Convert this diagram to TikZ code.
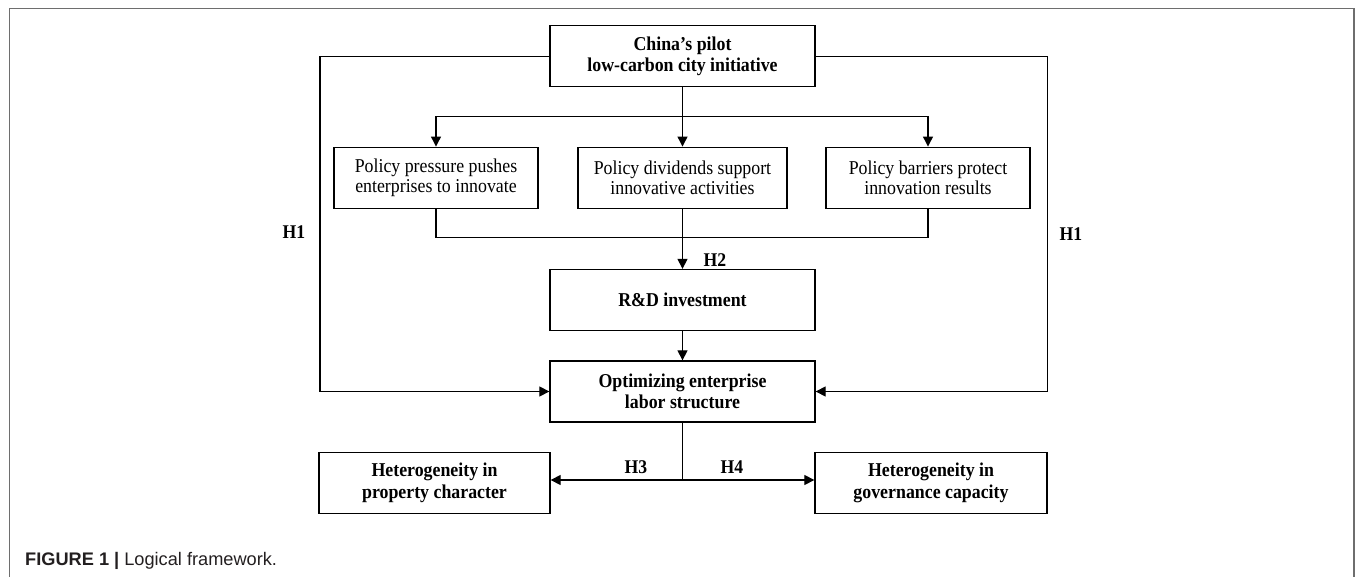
\documentclass[tikz,border=0pt]{standalone}
\usepackage{fontspec}
\setmainfont[FakeStretch=0.91]{Liberation Serif}
\newfontfamily\capfont{Liberation Sans}
\usetikzlibrary{arrows.meta}
\definecolor{framegray}{RGB}{110,110,110}
\definecolor{captext}{RGB}{35,31,32}
\begin{document}
\begin{tikzpicture}[x=1pt,y=-1pt,
  box/.style={draw, line width=1.3pt, inner sep=0pt, align=center, minimum height=61pt,
              font=\fontsize{19.6}{20.8}\selectfont},
  bbox/.style={box, font=\fontsize{19.6}{21.6}\selectfont\bfseries},
  hl/.style={font=\fontsize{19.4}{20}\selectfont\bfseries, inner sep=0pt},
  conn/.style={line width=1.2pt},
  tip/.tip={Triangle[length=10pt,width=10pt]},
  arr/.style={conn, -tip},
  darr/.style={conn, tip-tip}
]
\useasboundingbox (0,0) rectangle (1355,577);
% outer frame (open at bottom)
\draw[framegray, line width=1.3pt] (9.3,577) -- (9.3,8.3) -- (1354,8.3) -- (1354,577);

% nodes
\node[bbox, minimum width=265pt] (top) at (682.5,56.2) {China’s pilot\\low-carbon city initiative};
\node[box, minimum width=204pt] (pp) at (436,177.7) {Policy pressure pushes\\enterprises to innovate};
\node[box, minimum width=209pt] (pd) at (682.5,177.7) {Policy dividends support\\innovative activities};
\node[box, minimum width=204pt] (pb) at (928,177.7) {Policy barriers protect\\innovation results};
\node[bbox, minimum width=265pt] (rd) at (682.5,300) {R\&D investment};
\node[bbox, minimum width=265pt] (opt) at (682.5,391.5) {Optimizing enterprise\\labor structure};
\node[bbox, minimum width=231pt] (hp) at (434.5,482.8) {Heterogeneity in\\property character};
\node[bbox, minimum width=232pt] (hg) at (931,482.8) {Heterogeneity in\\governance capacity};

% helper coordinates
\coordinate (lc) at (320,0);
\coordinate (rc) at (1047.5,0);
\coordinate (br) at (0,116.5);
\coordinate (mg) at (0,237.5);
\coordinate (jn) at (682.5,480);

% H1 paths
\draw[arr] (top.west) -- (top.west -| lc) -- (opt.west -| lc) -- (opt.west);
\draw[arr] (top.east) -- (top.east -| rc) -- (opt.east -| rc) -- (opt.east);

% branch to three policy boxes
\draw[arr] (top.south) -- (pd.north);
\draw[arr] (top.south |- br) -| (pp.north);
\draw[arr] (top.south |- br) -| (pb.north);

% merge into R&D
\draw[conn] (pp.south) |- (pd.south |- mg) -| (pb.south);
\draw[arr] (pd.south) -- (rd.north);
\draw[arr] (rd.south) -- (opt.north);

% heterogeneity
\draw[conn] (opt.south) -- (jn);
\draw[arr] (jn) -- (jn -| hp.east);
\draw[arr] (jn) -- (jn -| hg.west);

% labels
\node[hl] (h1l) at (294,232) {H1};
\node[hl] (h1r) at (1071,234) {H1};
\node[hl] (h2) at (715,260) {H2};
\node[hl] (h3) at (636,467) {H3};
\node[hl] (h4) at (732,467) {H4};

% caption
\node[anchor=base west, inner sep=0pt, text=captext, font=\capfont\fontsize{18.2}{20}\selectfont] (cap) at (25,565)
  {\textbf{FIGURE 1 |} Logical framework.};
\end{tikzpicture}
\end{document}
